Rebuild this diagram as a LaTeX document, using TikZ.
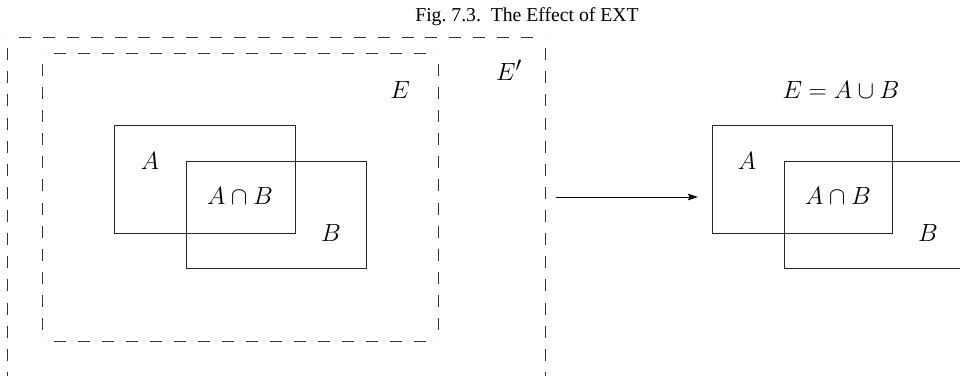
\documentclass[tikz,border=0pt]{standalone}
\usepackage{amsmath,amssymb}
\usepackage{fontspec}
\usetikzlibrary{arrows.meta,decorations}
\newfontfamily\captionfont{Liberation Serif}

\tikzset{
  region/.style={draw=black!80,line width=0.8pt,dash pattern=on 12pt off 11pt,dash expand off},
  setbox/.style={draw=black!85,line width=0.8pt},
  setlabel/.style={font=\fontsize{27.5}{32}\selectfont,inner sep=0pt}
}

\begin{document}
\begin{tikzpicture}[x=1pt,y=-1pt]
  \useasboundingbox (0,0) rectangle (960,375);
  \clip (0,0) rectangle (960,375);
  % universes E' and E, one side at a time so the corners close
  \coordinate (P1) at (7,37);
  \coordinate (P2) at (545,395);
  \coordinate (Q1) at (42,53);
  \coordinate (Q2) at (438,341);
  \foreach \a/\b in {P1/P2,Q1/Q2}{
    \draw[region] (\a) -- (\a -| \b);
    \draw[region] (\a -| \b) -- (\b);
    \draw[region] (\b) -- (\b -| \a);
    \draw[region] (\b -| \a) -- (\a);
  }
  % sets before EXT
  \draw[setbox] (114,125) rectangle (295,233);
  \draw[setbox] (186,161) rectangle (366,268);
  % sets after EXT
  \draw[setbox] (712,125) rectangle (892,233);
  \draw[setbox] (784,161) rectangle (975,268);
  \node (title) at (527,17) {\captionfont\fontsize{19.7}{22}\selectfont Fig.~7.3.\ \ The Effect of EXT};
  \node[setlabel] (lE) at (400,90) {$E$};
  \node[setlabel] (lEp) at (509,70) {$E'$};
  \node[setlabel] (lA) at (150,161) {$A$};
  \node[setlabel] (lAB) at (240,196) {$A\cap B$};
  \node[setlabel] (lB) at (331,233) {$B$};
  \node[setlabel] (rE) at (841,90) {$E=A\cup B$};
  \node[setlabel] (rA) at (747,161) {$A$};
  \node[setlabel] (rAB) at (838,196) {$A\cap B$};
  \node[setlabel] (rB) at (928,233) {$B$};
  % the mapping
  \coordinate (from) at (556,197);
  \coordinate (to) at (698,197);
  \draw[line width=0.8pt,-{Stealth[length=10pt,width=6.5pt,inset=1.5pt]}] (from) -- (to);
\end{tikzpicture}
\end{document}
